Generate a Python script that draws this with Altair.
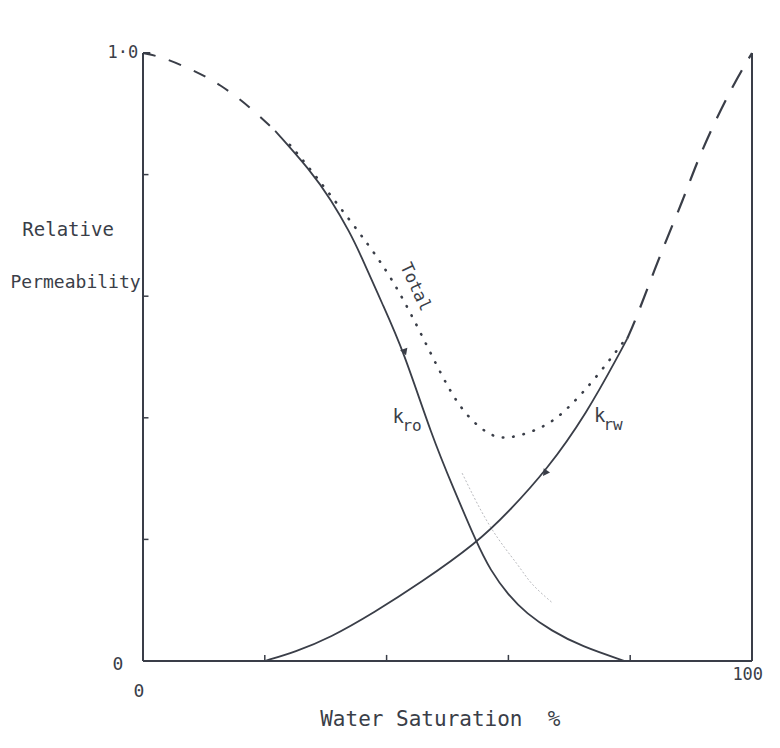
import altair as alt
import pandas as pd

# ---- data ----
kro_dash_x = [0, 3.3, 8.2, 12.6, 17.6, 21.7]
kro_dash_y = [1.0, 0.993, 0.972, 0.949, 0.911, 0.872]
kro_x = [21.7, 27.4, 31.0, 34.0, 35.6, 39.4, 42.7, 47.5, 50.9, 54.8, 57.0, 60.0, 63.0, 67.0, 72.0, 79.1]
kro_y = [0.872, 0.808, 0.757, 0.704, 0.671, 0.585, 0.512, 0.368, 0.286, 0.194, 0.150, 0.108, 0.078, 0.050, 0.024, 0.0]

krw_x = [20.0, 25.0, 30.7, 38.0, 45.5, 54.8, 60.0, 66.3, 72.9, 78.3, 79.5]
krw_y = [0.0, 0.015, 0.038, 0.08, 0.128, 0.194, 0.245, 0.314, 0.408, 0.507, 0.53]
krw_dash_x = [79.5, 81.1, 85.4, 88.7, 91.5, 96.4, 100.0]
krw_dash_y = [0.53, 0.566, 0.681, 0.758, 0.836, 0.939, 1.0]

total_x = [24.1, 26.3, 34.0, 40.1, 44.3, 48.3, 52.1, 56.5, 59.8, 66.3, 70.1, 74.5, 79.5]
total_y = [0.849, 0.824, 0.725, 0.643, 0.566, 0.484, 0.413, 0.372, 0.363, 0.385, 0.418, 0.467, 0.533]

faint_x = [52.4, 57.0, 61.9, 63.5, 67.3]
faint_y = [0.309, 0.215, 0.155, 0.128, 0.095]

arrow_x = [43.0, 66.0]
arrow_y = [0.508, 0.309]
arrow_angle = [340, 35]

y_ticks = [0.2, 0.4, 0.6, 0.8]
x_ticks = [20, 40, 60, 80]

INK = "#3a3e48"
FONT = "DejaVu Sans Mono"

X = alt.Scale(domain=[0, 100])
Y = alt.Scale(domain=[0, 1])


def enc_xy(xf="x", yf="y"):
    return dict(x=alt.X(f"{xf}:Q", scale=X, axis=None),
                y=alt.Y(f"{yf}:Q", scale=Y, axis=None))


def curve(xs, ys, interp="basis", **kw):
    df = pd.DataFrame({"x": xs, "y": ys})
    return alt.Chart(df).mark_line(interpolate=interp, color=INK, **kw).encode(**enc_xy())


lines = [
    curve(kro_dash_x, kro_dash_y, strokeWidth=2, strokeDash=[13, 14]),
    curve(kro_x, kro_y, strokeWidth=1.8),
    curve(krw_x, krw_y, strokeWidth=1.8),
    curve(krw_dash_x, krw_dash_y, strokeWidth=2.2, strokeDash=[20, 14]),
    curve(total_x, total_y, strokeWidth=2.6, strokeDash=[0.5, 10], strokeCap="round"),
    curve(faint_x, faint_y, strokeWidth=0.8, opacity=0.45, strokeDash=[2, 2]),
]

arrows = alt.Chart(pd.DataFrame({"x": arrow_x, "y": arrow_y, "a": arrow_angle})).mark_point(
    shape="triangle-down", filled=True, size=60, color=INK, opacity=1
).encode(
    angle=alt.Angle("a:Q", scale=None),
    **enc_xy(),
)

# frame: left axis, right line, bottom axis, top-left tick
frame_df = pd.DataFrame({
    "x": [0, 100, 0, 0],
    "x2": [0, 100, 100, 1.2],
    "y": [0, 0, 0, 1],
    "y2": [1, 1, 0, 1],
})
frame = alt.Chart(frame_df).mark_rule(color=INK, strokeWidth=2).encode(
    x2="x2:Q", y2="y2:Q", **enc_xy())

yt = alt.Chart(pd.DataFrame({"v": y_ticks, "x": [0] * 4, "x2": [0.9] * 4})).mark_rule(
    color=INK, strokeWidth=1.5).encode(
    x=alt.X("x:Q", scale=X, axis=None), x2="x2:Q", y=alt.Y("v:Q", scale=Y, axis=None))
xt = alt.Chart(pd.DataFrame({"v": x_ticks, "y": [0] * 4, "y2": [0.01] * 4})).mark_rule(
    color=INK, strokeWidth=1.5).encode(
    x=alt.X("v:Q", scale=X, axis=None), y=alt.Y("y:Q", scale=Y, axis=None), y2="y2:Q")


def label(text, x, y, size=17, align="center", angle=0):
    kw = dict(font=FONT, fontSize=size, color=INK, align=align, baseline="middle")
    if angle:
        kw["angle"] = angle
    df = pd.DataFrame({"x": [x], "y": [y], "t": [text]})
    return alt.Chart(df).mark_text(**kw).encode(text="t:N", **enc_xy())


labels = [
    label("1·0", -0.8, 1.0, size=17, align="right"),
    label("0", -4.1, -0.007, size=18),
    label("0", -0.66, -0.051, size=18),
    label("100", 99.3, -0.023, size=17),
    label("Relative", -12.3, 0.709, size=19),
    label("Permeability", -0.4, 0.622, size=18, align="right"),
    label("Water Saturation\u00a0\u00a0%", 29.1, -0.097, size=21, align="left"),
    label("Total", 44.7, 0.615, size=17, angle=65),
    label("k", 41.9, 0.402, size=19),
    label("ro", 42.6, 0.386, size=16, align="left"),
    label("k", 75.0, 0.403, size=19),
    label("rw", 75.6, 0.388, size=16, align="left"),
]

chart = alt.layer(frame, yt, xt, *lines, arrows, *labels).properties(
    width=609,
    height=608,
    autosize=alt.AutoSizeParams(type="none"),
    padding={"left": 135, "top": 45, "right": 20, "bottom": 79},
).configure(background="white").configure_view(stroke=None)

chart.save("out.html", embed_options={"renderer": "svg", "actions": False})
